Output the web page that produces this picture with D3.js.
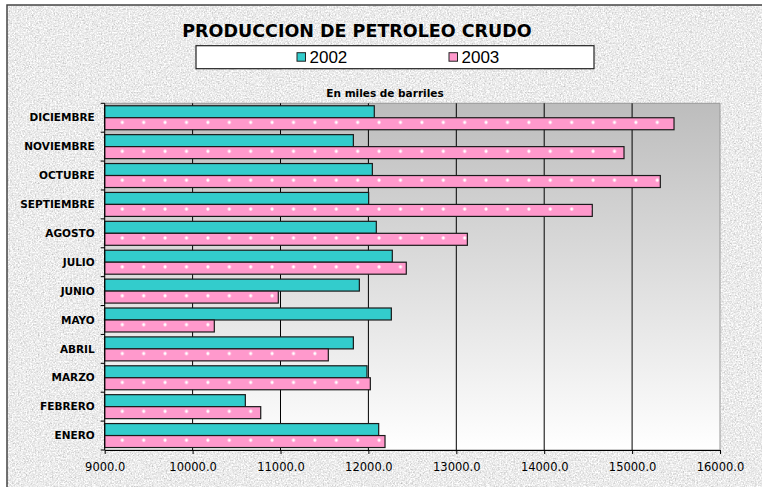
<!DOCTYPE html>
<html>
<head>
<meta charset="utf-8">
<script src="https://cdn.jsdelivr.net/npm/d3@7"></script>
<style>
  html, body { margin: 0; padding: 0; background: #fff; }
  svg { display: block; }
</style>
</head>
<body>
<div id="chart"></div>
<script>
// datos (miles de barriles)
const months = ["ENERO", "FEBRERO", "MARZO", "ABRIL", "MAYO", "JUNIO", "JULIO",
  "AGOSTO", "SEPTIEMBRE", "OCTUBRE", "NOVIEMBRE", "DICIEMBRE"];
const seriesNames = ["2002", "2003"];
const values2002 = [12117, 10600, 11984, 11829, 12261, 11897, 12272, 12090, 12003, 12045, 11829, 12067];
const values2003 = [12189, 10775, 12022, 11544, 10247, 10975, 12431, 13126, 14547, 15321, 14908, 15477];
const xTicks = [9000, 10000, 11000, 12000, 13000, 14000, 15000, 16000];

const width = 762;
const height = 487;
const margin = { top: 103.3, right: 42, bottom: 37, left: 104.7 };

const svg = d3.select("#chart").append("svg")
  .attr("width", width)
  .attr("height", height);

const defs = svg.append("defs");

// textura de fondo
const grain = defs.append("filter").attr("id", "grain")
  .attr("x", 0).attr("y", 0).attr("width", "100%").attr("height", "100%")
  .attr("color-interpolation-filters", "sRGB");
grain.append("feTurbulence")
  .attr("type", "fractalNoise").attr("baseFrequency", 0.65)
  .attr("numOctaves", 3).attr("seed", 7).attr("result", "n");
grain.append("feColorMatrix").attr("in", "n").attr("type", "matrix")
  .attr("values", "0.33 0.33 0.33 0 0  0.33 0.33 0.33 0 0  0.33 0.33 0.33 0 0  0 0 0 0 1")
  .attr("result", "g");
const ct = grain.append("feComponentTransfer").attr("in", "g");
["R", "G", "B"].forEach(c => ct.append("feFunc" + c).attr("type", "linear").attr("slope", 0.65).attr("intercept", 0.6));

// degradado del area de trazado
const grad = defs.append("linearGradient").attr("id", "plotbg")
  .attr("x1", 0).attr("y1", 0).attr("x2", 0).attr("y2", 1);
grad.append("stop").attr("offset", "0%").attr("stop-color", "#bdbdbd");
grad.append("stop").attr("offset", "100%").attr("stop-color", "#ffffff");

// trama de puntos para 2003
const pat = defs.append("pattern").attr("id", "dots")
  .attr("patternUnits", "userSpaceOnUse")
  .attr("width", 21.4).attr("height", 21.33)
  .attr("x", 122.3 - 21.4 * 5).attr("y", 123.3 - 21.33 * 5);
pat.append("rect").attr("width", 21.4).attr("height", 21.33).attr("fill", "#ff99cc");
[[0, 0], [21.4, 0], [0, 21.33], [21.4, 21.33], [10.7, 10.67]].forEach(p => {
  pat.append("circle").attr("cx", p[0]).attr("cy", p[1]).attr("r", 1.6).attr("fill", "#fff");
});

// fondo del grafico
svg.append("rect").attr("x", 7).attr("y", 5)
  .attr("width", width).attr("height", height)
  .attr("fill", "#e8e8e8");
svg.append("rect").attr("x", 7).attr("y", 5)
  .attr("width", width).attr("height", height)
  .attr("filter", "url(#grain)");
svg.append("path")
  .attr("d", `M7,${height}V5H${width}`)
  .attr("fill", "none").attr("stroke", "#444").attr("stroke-width", 1.5);

const x = d3.scaleLinear()
  .domain([9000, 16000])
  .range([margin.left, width - margin.right]);

const y = d3.scaleBand()
  .domain(months.slice().reverse())
  .range([margin.top, height - margin.bottom])
  .paddingInner(0.17)
  .paddingOuter(0.085);

const ySub = d3.scaleBand()
  .domain(seriesNames)
  .range([0, y.bandwidth()]);

const color = d3.scaleOrdinal().domain(seriesNames).range(["#33cccc", "url(#dots)"]);
const legendColor = d3.scaleOrdinal().domain(seriesNames).range(["#33cccc", "#ff99cc"]);

const plotTop = margin.top;
const plotBottom = height - margin.bottom;

// area de trazado
svg.append("rect")
  .attr("x", x(9000)).attr("y", plotTop)
  .attr("width", x(16000) - x(9000)).attr("height", plotBottom - plotTop)
  .attr("fill", "url(#plotbg)")
  .attr("stroke", "#999").attr("stroke-width", 1);

// lineas de division
svg.append("g")
  .selectAll("line")
  .data(xTicks.slice(1, -1))
  .join("line")
  .attr("x1", d => x(d)).attr("x2", d => x(d))
  .attr("y1", plotTop).attr("y2", plotBottom)
  .attr("stroke", "#000").attr("stroke-width", 1);

// barras
const rows = months.map((m, i) => ({ month: m, values: [values2002[i], values2003[i]] }));

const group = svg.append("g")
  .selectAll("g")
  .data(rows)
  .join("g")
  .attr("transform", d => `translate(0,${y(d.month)})`);

group.selectAll("rect")
  .data(d => d.values.map((v, j) => ({ key: seriesNames[j], value: v })))
  .join("rect")
  .attr("x", x(9000))
  .attr("y", d => ySub(d.key))
  .attr("width", d => x(d.value) - x(9000))
  .attr("height", ySub.bandwidth())
  .attr("fill", d => color(d.key))
  .attr("stroke", "#1a1a1a")
  .attr("stroke-width", 1.2);

// eje x
const xAxis = svg.append("g")
  .attr("transform", `translate(0,${plotBottom})`)
  .call(d3.axisBottom(x).tickValues(xTicks).tickFormat(d3.format(".1f"))
    .tickSize(4).tickSizeOuter(0).tickPadding(9));
xAxis.select(".domain").attr("stroke", "#000");
xAxis.selectAll("text")
  .attr("font-family", "DejaVu Sans, Verdana, sans-serif")
  .attr("font-size", 11.5)
  .attr("fill", "#000");

// eje y
const boundaries = months.map((m, i) => plotTop + i * y.step()).concat([plotBottom]);
const yAxis = svg.append("g");
yAxis.append("line")
  .attr("x1", x(9000)).attr("x2", x(9000))
  .attr("y1", plotTop).attr("y2", plotBottom)
  .attr("stroke", "#000");
yAxis.selectAll(".tk")
  .data(boundaries)
  .join("line")
  .attr("class", "tk")
  .attr("x1", x(9000) - 4).attr("x2", x(9000))
  .attr("y1", d => d).attr("y2", d => d)
  .attr("stroke", "#000");
yAxis.selectAll("text")
  .data(months)
  .join("text")
  .attr("x", x(9000) - 10)
  .attr("y", d => y(d) + y.bandwidth() / 2)
  .attr("dy", "0.35em")
  .attr("text-anchor", "end")
  .attr("font-family", "DejaVu Sans, Verdana, sans-serif")
  .attr("font-weight", "bold")
  .attr("font-size", 10.5)
  .text(d => d);

// titulo
svg.append("text")
  .attr("x", 357).attr("y", 36.5)
  .attr("text-anchor", "middle")
  .attr("font-family", "DejaVu Sans, Verdana, sans-serif")
  .attr("font-weight", "bold")
  .attr("font-size", 17.5)
  .text("PRODUCCION DE PETROLEO CRUDO");

svg.append("text")
  .attr("x", 385).attr("y", 96.5)
  .attr("text-anchor", "middle")
  .attr("font-family", "DejaVu Sans, Verdana, sans-serif")
  .attr("font-weight", "bold")
  .attr("font-size", 10.5)
  .text("En miles de barriles");

// leyenda
svg.append("rect")
  .attr("x", 196).attr("y", 45.7)
  .attr("width", 398).attr("height", 23)
  .attr("fill", "#fff").attr("stroke", "#222").attr("stroke-width", 1.2);

const legend = svg.selectAll(".legend-item")
  .data(seriesNames)
  .join("g")
  .attr("class", "legend-item")
  .attr("transform", (d, i) => `translate(${297 + i * 152},52.7)`);

legend.append("rect")
  .attr("width", 8.5).attr("height", 8.5)
  .attr("fill", d => legendColor(d))
  .attr("stroke", "#222").attr("stroke-width", 1);

legend.append("text")
  .attr("x", 12.5).attr("y", 10.5)
  .attr("font-family", "Liberation Sans, Arial, sans-serif")
  .attr("font-size", 17)
  .text(d => d);
</script>
</body>
</html>
